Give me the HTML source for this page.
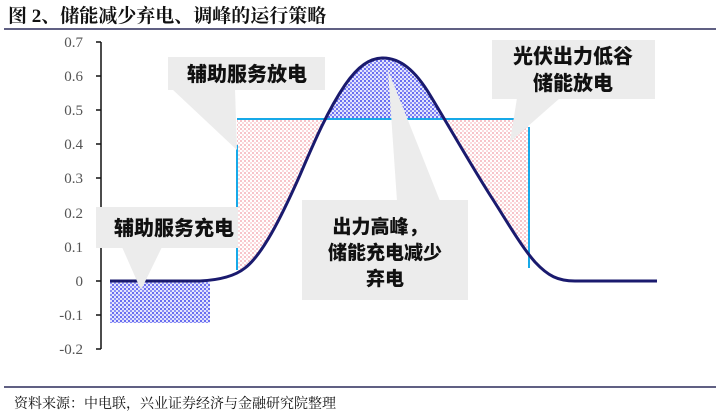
<!DOCTYPE html>
<html><head><meta charset="utf-8"><style>
html,body{margin:0;padding:0;background:#fff;width:723px;height:418px;overflow:hidden}
svg{display:block}
.t{font-family:"Liberation Serif","Noto Serif CJK SC",serif}
.c{font-family:"Noto Sans CJK SC","WenQuanYi Zen Hei",sans-serif;font-weight:900;fill:#111}
.ax{font-family:"Liberation Serif",serif;font-size:15px;fill:#555}
</style></head><body>
<svg width="723" height="418" viewBox="0 0 723 418">
<defs>
<pattern id="bl" width="4" height="4" patternUnits="userSpaceOnUse"><rect width="4" height="4" fill="#e4e5fc"/><rect width="2" height="2" fill="#6a6ef0"/><rect x="2" y="2" width="2" height="2" fill="#8a8ef5"/></pattern>
<pattern id="pk" width="4" height="4" patternUnits="userSpaceOnUse"><rect width="4" height="4" fill="#fff"/><rect width="2" height="2" fill="#f7c4ca"/><rect x="2" y="2" width="2" height="2" fill="#fbdadd"/></pattern>
<clipPath id="under"><path d="M110,281 L200,281 C220,280 235,276 245,268 C262,255 280,220 300,175 C315,140 328,110 345,85 C358,66 370,58 383,58 C400,58 415,70 430,95 C450,128 468,160 490,195 C505,218 520,245 535,262 C548,276 558,281 575,281 L657,281 L657,330 L110,330 Z"/></clipPath>
</defs>
<text x="8" y="22" class="t" font-size="19" font-weight="bold" fill="#111">图 2、储能减少弃电、调峰的运行策略</text>
<line x1="4" y1="29" x2="716" y2="29" stroke="#2c2c5a" stroke-width="1.5"/>
<line x1="4" y1="387" x2="716" y2="387" stroke="#2c2c5a" stroke-width="1.5"/>
<text x="14" y="408" class="t" font-size="14" fill="#111">资料来源：中电联，兴业证券经济与金融研究院整理</text>
<line x1="101" y1="42" x2="101" y2="349" stroke="#111" stroke-width="1.5"/>
<g stroke="#111" stroke-width="1.5">
<line x1="96" y1="42" x2="101" y2="42"/><line x1="96" y1="76" x2="101" y2="76"/><line x1="96" y1="110" x2="101" y2="110"/><line x1="96" y1="144" x2="101" y2="144"/><line x1="96" y1="178" x2="101" y2="178"/><line x1="96" y1="213" x2="101" y2="213"/><line x1="96" y1="247" x2="101" y2="247"/><line x1="96" y1="281" x2="101" y2="281"/><line x1="96" y1="315" x2="101" y2="315"/><line x1="96" y1="349" x2="101" y2="349"/>
</g>
<g class="ax" text-anchor="end">
<text x="83" y="47">0.7</text><text x="83" y="81">0.6</text><text x="83" y="115">0.5</text><text x="83" y="149">0.4</text><text x="83" y="183">0.3</text><text x="83" y="218">0.2</text><text x="83" y="252">0.1</text><text x="83" y="286">0</text><text x="83" y="320">-0.1</text><text x="83" y="354">-0.2</text>
</g>
<rect x="237" y="119" width="291" height="165" fill="url(#pk)"/>
<rect x="200" y="119" width="400" height="200" fill="#fff" clip-path="url(#under)"/>
<rect x="300" y="50" width="170" height="69" fill="url(#bl)" clip-path="url(#under)"/>
<rect x="110" y="282" width="100" height="41" fill="url(#bl)"/>
<line x1="237" y1="119" x2="528" y2="119" stroke="#17a9e8" stroke-width="2"/>
<line x1="237" y1="145" x2="237" y2="270" stroke="#17a9e8" stroke-width="2"/>
<line x1="529" y1="127" x2="529" y2="268" stroke="#17a9e8" stroke-width="2"/>
<path d="M110,281 L200,281 C220,280 235,276 245,268 C262,255 280,220 300,175 C315,140 328,110 345,85 C358,66 370,58 383,58 C400,58 415,70 430,95 C450,128 468,160 490,195 C505,218 520,245 535,262 C548,276 558,281 575,281 L657,281" fill="none" stroke="#1a1a6e" stroke-width="3"/>
<g fill="#ececec">
<rect x="168" y="57" width="157" height="33"/><polygon points="172,89 235,89 237,150"/>
<rect x="96" y="207" width="142" height="41"/><polygon points="122,247 162,247 141,290"/>
<rect x="302" y="200" width="166" height="100"/><polygon points="397,201 440,201 388,70"/>
<rect x="492" y="40" width="163" height="59"/><polygon points="517,98 560,98 510,142"/>
</g>
<g class="c" text-anchor="middle" font-size="20">
<text x="247" y="81">辅助服务放电</text>
<text x="174" y="235">辅助服务充电</text>
<text x="380" y="233" font-size="19">出力高峰，</text>
<text x="385" y="259" font-size="19">储能充电减少</text>
<text x="385" y="285" font-size="19">弃电</text>
<text x="573" y="63">光伏出力低谷</text>
<text x="573" y="90">储能放电</text>
</g>
</svg>
</body></html>
